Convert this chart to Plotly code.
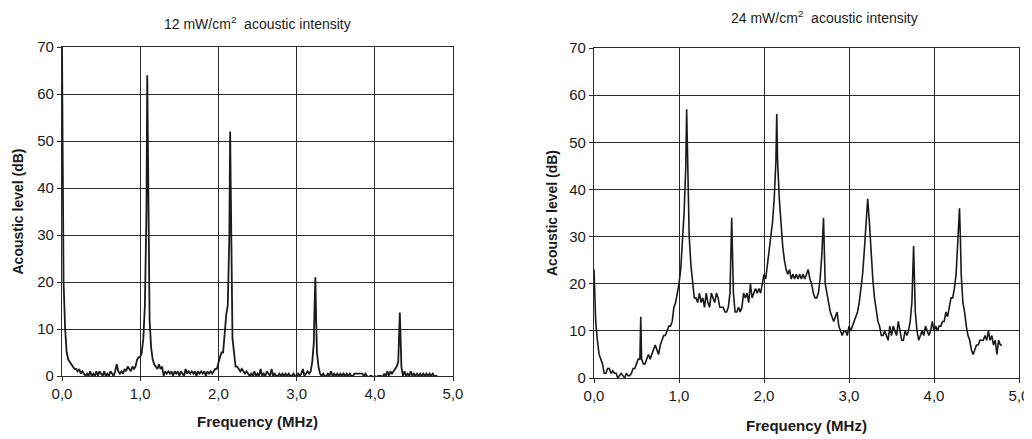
import plotly.graph_objects as go

# ---- data ----
freq_12 = [0.00,0.01,0.02,0.03,0.04,0.06,0.08,0.10,0.12,0.14,0.16,0.18,0.20,0.22,0.24,0.26,0.28,0.30,0.32,0.34,0.36,0.38,0.40,0.42,0.44,0.46,0.48,0.50,0.52,0.54,0.56,0.58,0.60,0.62,0.64,0.66,0.68,0.70,0.72,0.74,0.76,0.78,0.80,0.82,0.84,0.86,0.88,0.90,0.92,0.94,0.96,0.98,1.00,1.02,1.04,1.06,1.08,1.09,1.10,1.11,1.12,1.14,1.16,1.18,1.20,1.22,1.24,1.26,1.28,1.30,1.32,1.34,1.36,1.38,1.40,1.42,1.44,1.46,1.48,1.50,1.52,1.54,1.56,1.58,1.60,1.62,1.64,1.66,1.68,1.70,1.72,1.74,1.76,1.78,1.80,1.82,1.84,1.86,1.88,1.90,1.92,1.94,1.96,1.98,2.00,2.02,2.04,2.06,2.08,2.10,2.12,2.14,2.15,2.16,2.17,2.18,2.20,2.22,2.24,2.26,2.28,2.30,2.32,2.34,2.36,2.38,2.40,2.42,2.44,2.46,2.48,2.50,2.52,2.54,2.56,2.58,2.60,2.62,2.64,2.66,2.68,2.70,2.72,2.74,2.76,2.78,2.80,2.82,2.84,2.86,2.88,2.90,2.92,2.94,2.96,2.98,3.00,3.02,3.04,3.06,3.08,3.10,3.12,3.14,3.16,3.18,3.20,3.22,3.23,3.24,3.25,3.26,3.28,3.30,3.32,3.34,3.36,3.38,3.40,3.42,3.44,3.46,3.48,3.50,3.52,3.54,3.56,3.58,3.60,3.62,3.64,3.66,3.68,3.70,3.72,3.74,3.76,3.78,3.80,3.82,3.84,3.86,3.88,3.90,3.92,3.94,3.96,3.98,4.00,4.02,4.04,4.06,4.08,4.10,4.12,4.14,4.16,4.18,4.20,4.22,4.24,4.26,4.28,4.30,4.31,4.32,4.33,4.34,4.36,4.38,4.40,4.42,4.44,4.46,4.48,4.50,4.52,4.54,4.56,4.58,4.60,4.62,4.64,4.66,4.68,4.70,4.72,4.74,4.76,4.78,4.80]
level_12 = [70,40,20,15,10,5,3.5,3,2.5,2,1.5,1.5,1,1.5,0.5,1,0.5,0,0.5,0,1,0,0.5,0,1,0,1,0.5,0,1,0,0.5,0,1,0.5,0,1,2.5,1,0.5,1,0.5,1.5,1,2,1.5,1,2,1.5,2,3.5,4,4,5,8,15,35,64,50,25,12,6,3.5,2.5,2,1.5,2.5,1.5,2,0,1,0.5,1,0.5,1,0,1,0.5,1,0,1,0.5,0,1.5,0.5,1,0.5,1,0.5,1,0,1,0.5,1,0.5,1,0,1,0.5,1,0.5,1,1.5,1.5,3,4,5,5,9,13,15,30,52,35,15,8,5,2,2,1.5,1,1.5,1,0.5,1,0.5,0,0.5,0,1,0,0.5,0,1.5,0,0.5,0,1,0.5,0,1.5,0,0.5,0,0,0.5,0,0.5,0,0.5,0,0.5,0,0,0.5,0,0,0.5,0,0.5,1.5,0,0.5,1,0.5,1,3,7,15,21,12,5,2,0.5,0,0.5,0,0,0.5,0,1,0,0.5,0,0.5,0,0.5,0,0.5,0,0.5,0,0.5,0,0,0.5,0.5,0.5,0.5,0.5,0.5,0,0.5,0,-0.3,0,0,-0.3,0,-0.3,0,0,0,-0.3,0.5,0,1,0,1,0.5,1,1.5,2,3,8,13.5,8,2,0,1,0,0.5,0,1,0,0.5,0,0.5,0,0.5,0,0.5,0,0.5,0,0.5,0,0.5,0,0,0,0]

freq_24 = [0.00,0.01,0.02,0.04,0.06,0.08,0.10,0.12,0.14,0.16,0.18,0.20,0.22,0.24,0.26,0.28,0.30,0.32,0.34,0.36,0.38,0.40,0.42,0.44,0.46,0.48,0.50,0.52,0.54,0.55,0.56,0.58,0.60,0.62,0.64,0.66,0.68,0.70,0.72,0.74,0.76,0.78,0.80,0.82,0.84,0.86,0.88,0.90,0.92,0.94,0.96,0.98,1.00,1.02,1.04,1.06,1.08,1.09,1.10,1.11,1.12,1.14,1.16,1.18,1.20,1.22,1.24,1.26,1.28,1.30,1.32,1.34,1.36,1.38,1.40,1.42,1.44,1.46,1.48,1.50,1.52,1.54,1.56,1.58,1.60,1.62,1.63,1.64,1.66,1.68,1.70,1.72,1.74,1.76,1.78,1.80,1.82,1.84,1.86,1.88,1.90,1.92,1.94,1.96,1.98,2.00,2.02,2.04,2.06,2.08,2.10,2.12,2.14,2.15,2.16,2.18,2.20,2.22,2.24,2.26,2.28,2.30,2.32,2.34,2.36,2.38,2.40,2.42,2.44,2.46,2.48,2.50,2.52,2.54,2.56,2.58,2.60,2.62,2.64,2.66,2.68,2.70,2.71,2.72,2.74,2.76,2.78,2.80,2.82,2.84,2.86,2.88,2.90,2.92,2.94,2.96,2.98,3.00,3.02,3.04,3.06,3.08,3.10,3.12,3.14,3.16,3.18,3.20,3.22,3.24,3.26,3.28,3.30,3.32,3.34,3.36,3.38,3.40,3.42,3.44,3.46,3.48,3.50,3.52,3.54,3.56,3.58,3.60,3.62,3.64,3.66,3.68,3.70,3.72,3.74,3.76,3.77,3.78,3.80,3.82,3.84,3.86,3.88,3.90,3.92,3.94,3.96,3.98,4.00,4.02,4.04,4.06,4.08,4.10,4.12,4.14,4.16,4.18,4.20,4.22,4.24,4.26,4.28,4.30,4.31,4.32,4.34,4.36,4.38,4.40,4.42,4.44,4.46,4.48,4.50,4.52,4.54,4.56,4.58,4.60,4.62,4.64,4.66,4.68,4.70,4.72,4.74,4.76,4.78,4.80]
level_24 = [23,15,12,8,5,4,3,1,1,2,2,1,1.5,1,1,0,0.5,1,0.5,0,1,0.5,0.5,1,2,2,3,4,4,13,4,3,3,4,5,4,5,6,7,6,5,7,8,9,9,10,11,11,12,15,16,18,20,23,28,35,45,57,48,38,30,24,20,17,17,16,18,16,17,15,18,16,15,18,17,16,18,17,15,15,15,14,14,15,18,34,28,18,14,14,15,14,15,18,17,18,16,20,17,18,19,18,19,18,20,22,21,24,27,30,33,38,46,56,46,38,32,28,25,23,22,23,21,22,21,22,21,22,21,22,21,22,23,21,20,18,17,17,18,21,26,34,26,20,18,16,14,13,12,13,14,11,10,9,10,10,9,11,10,11,12,13,14,16,19,22,27,33,38,33,26,21,17,14,12,11,9,9,10,9,8,11,9,11,10,9,12,10,8,8,10,9,10,12,16,28,20,14,10,8,9,10,9,11,10,9,10,12,10,11,10,11,11,12,12,14,13,15,17,17,19,22,28,36,30,22,16,14,11,9,8,6,5,6,7,7,8,8,8,9,8,10,8,9,7,8,5,8,7,7]

x_ticks = [0, 1, 2, 3, 4, 5]
x_tick_labels = ["0,0", "1,0", "2,0", "3,0", "4,0", "5,0"]
y_ticks = [0, 10, 20, 30, 40, 50, 60, 70]

titles = ["12 mW/cm<sup>2</sup>  acoustic intensity", "24 mW/cm<sup>2</sup>  acoustic intensity"]

FONT = "Liberation Sans, Arial, sans-serif"
INK = "#1a1a1a"
GRID = "#2a2a2a"

fig = go.Figure()
fig.add_trace(go.Scatter(x=freq_12, y=level_12, mode="lines", xaxis="x", yaxis="y",
                         line=dict(color=INK, width=1.8), showlegend=False))
fig.add_trace(go.Scatter(x=freq_24, y=level_24, mode="lines", xaxis="x2", yaxis="y2",
                         line=dict(color=INK, width=1.6), showlegend=False))

# the page body adds an 8px margin, so the figure is sized to the visible area
OFF = 8
W, H = 1032 - OFF, 439 - OFF

def px_x(v):
    return (v - OFF) / W

def px_y(v):
    return 1 - (v - OFF) / H

dom = {
    "L": dict(x=(px_x(62), px_x(453)), y=(px_y(376), px_y(47))),
    "R": dict(x=(px_x(594), px_x(1019)), y=(px_y(378), px_y(48))),
}

def xaxis(d, anchor, standoff):
    return dict(domain=d, anchor=anchor, range=[0, 5], tickvals=x_ticks, ticktext=x_tick_labels,
                automargin=False,
                showgrid=True, gridcolor=GRID, gridwidth=1.2, zeroline=False,
                showline=True, mirror=True, linecolor=GRID, linewidth=1.2,
                ticks="outside", ticklen=4, tickcolor=GRID,
                tickfont=dict(family=FONT, size=15, color=INK),
                title=dict(text="<b>Frequency (MHz)</b>", font=dict(family=FONT, size=15, color=INK), standoff=standoff))

def yaxis(d, anchor, standoff):
    return dict(domain=d, anchor=anchor, range=[0, 70], tickvals=y_ticks,
                automargin=False,
                showgrid=True, gridcolor=GRID, gridwidth=1.2, zeroline=False,
                showline=True, mirror=True, linecolor=GRID, linewidth=1.2,
                ticks="outside", ticklen=4, tickcolor=GRID,
                tickfont=dict(family=FONT, size=15, color=INK),
                title=dict(text="<b>Acoustic level (dB)</b>", font=dict(family=FONT, size=14, color=INK), standoff=standoff))

fig.update_layout(
    width=W, height=H,
    margin=dict(l=0, r=0, t=0, b=0),
    paper_bgcolor="white", plot_bgcolor="white",
    xaxis=xaxis(dom["L"]["x"], "y", 15),
    yaxis=yaxis(dom["L"]["y"], "x", 10),
    xaxis2=xaxis(dom["R"]["x"], "y2", 17),
    yaxis2=yaxis(dom["R"]["y"], "x2", 8),
    annotations=[
        dict(text=titles[0], x=px_x(257), y=px_y(23), xref="paper", yref="paper",
             xanchor="center", yanchor="middle",
             showarrow=False, font=dict(family=FONT, size=14, color=INK)),
        dict(text=titles[1], x=px_x(824), y=px_y(17), xref="paper", yref="paper",
             xanchor="center", yanchor="middle",
             showarrow=False, font=dict(family=FONT, size=14, color=INK)),
    ],
)

fig.write_html("out.html")
